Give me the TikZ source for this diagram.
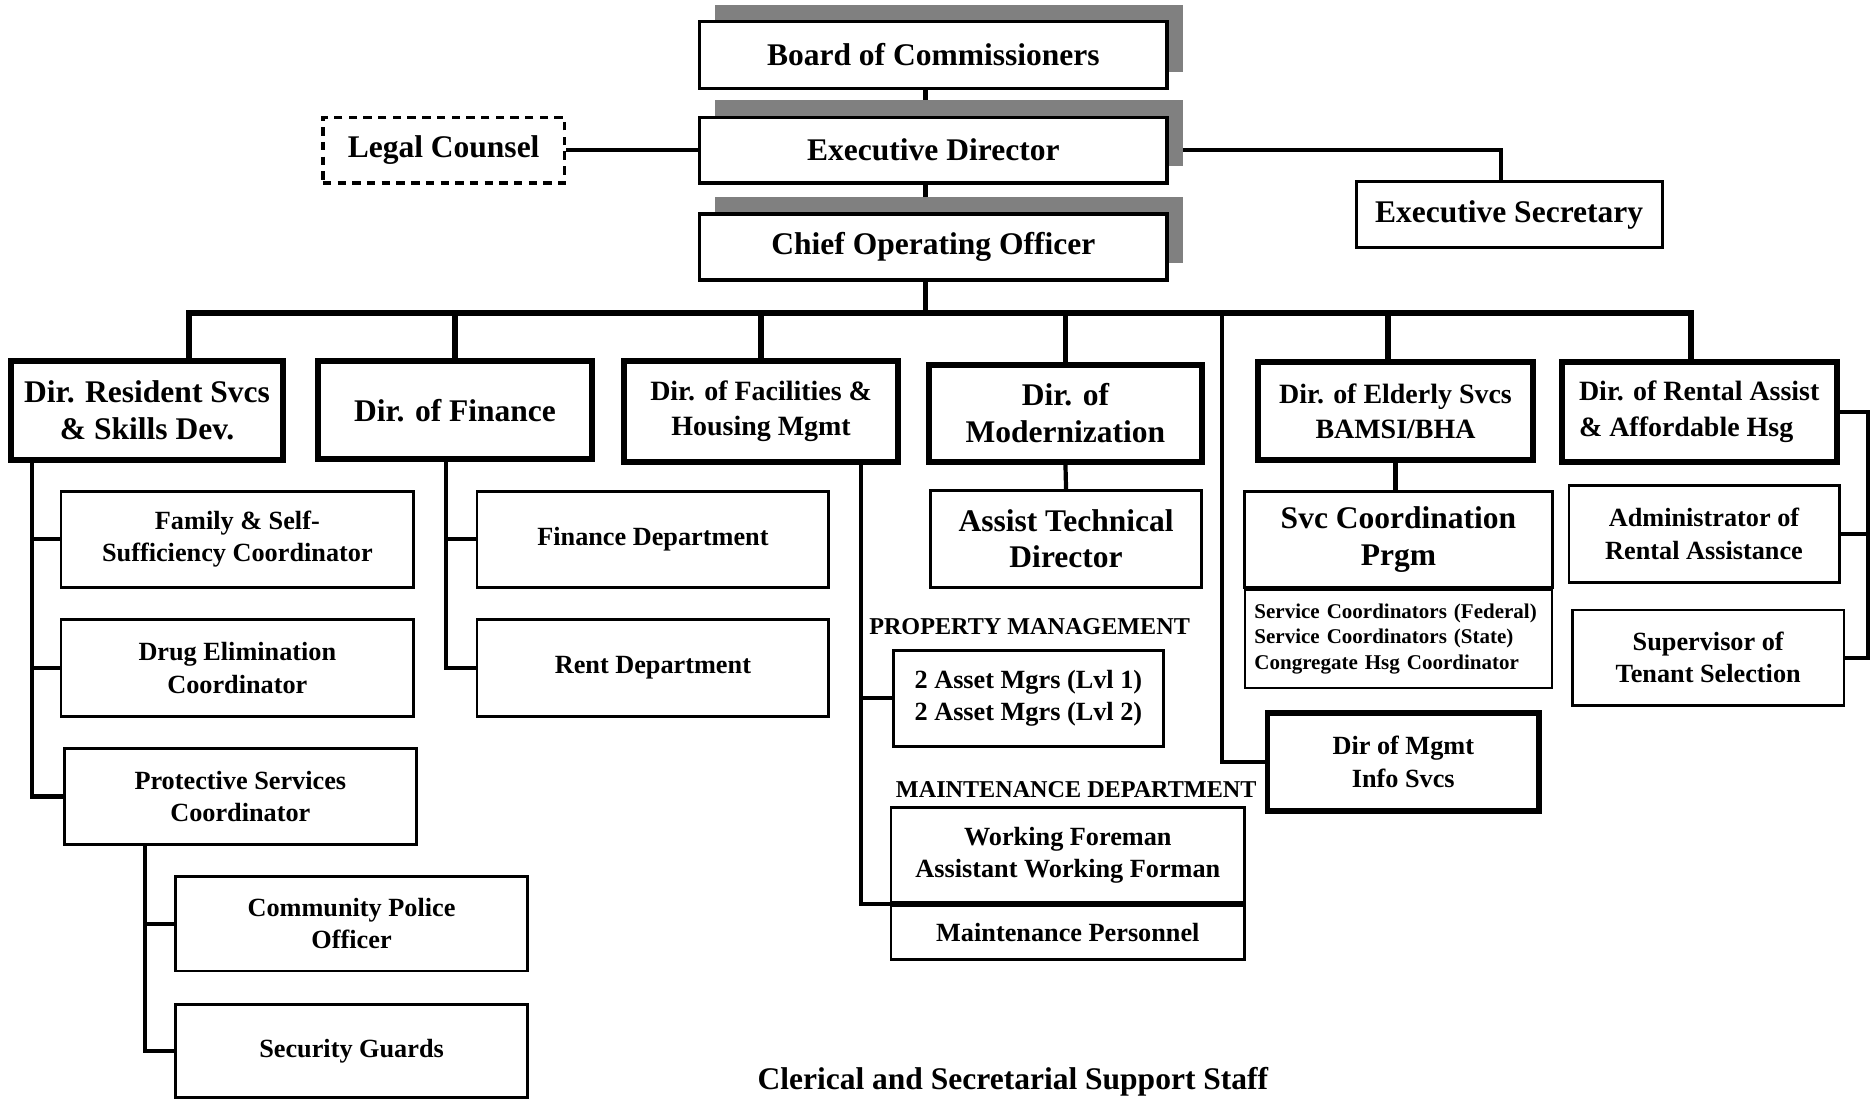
\documentclass[tikz,border=0pt]{standalone}
\usepackage{fontspec}
\setmainfont{Liberation Serif}
\usetikzlibrary{positioning, calc, shadows, backgrounds}

\begin{document}
\begin{tikzpicture}[x=0.02cm, y=-0.02cm,
  boxsize/.style 2 args = {minimum width=#1*0.02cm, minimum height=#2*0.02cm},
  topbox/.style = {
    rectangle, draw=black, line width=1.6pt, fill=white, align=center, inner sep=1pt,
    drop shadow={shadow xshift=0.26cm, shadow yshift=0.28cm, fill=gray, opacity=1},
    font=\fontsize{15}{17.6}\selectfont\bfseries
  },
  legalbox/.style = {
    rectangle, draw=black, line width=1.6pt, dash pattern=on 4pt off 3pt, fill=white,
    align=center, inner sep=1pt, font=\fontsize{15}{17.6}\selectfont\bfseries
  },
  plainbox/.style = {
    rectangle, draw=black, line width=1.4pt, fill=white, align=center, inner sep=1pt,
    font=\fontsize{15}{17.6}\selectfont\bfseries
  },
  dirbox/.style = {
    rectangle, draw=black, line width=2.8pt, fill=white, align=center, inner sep=1pt,
    drop shadow={shadow xshift=0.045cm, shadow yshift=-0.045cm, fill=gray!70, opacity=1},
    font=\fontsize{15}{17.6}\selectfont\bfseries
  },
  midfont/.style = {font=\fontsize{13.3}{17}\selectfont\bfseries},
  subfont/.style = {font=\fontsize{12.5}{15.4}\selectfont\bfseries},
  subbox/.style = {
    rectangle, draw=black, line width=1.3pt, fill=white, align=center, inner sep=1pt,
    font=\fontsize{12.5}{15.4}\selectfont\bfseries
  },
  listbox/.style = {
    rectangle, draw=black, line width=1.3pt, fill=white, align=left,
    inner xsep=0.16cm, inner ysep=1pt, text width=4.82cm, minimum height=82*0.02cm,
    font=\fontsize{10}{12}\selectfont\bfseries
  },
  caplabel/.style = {inner sep=1pt, font=\fontsize{11.5}{13}\selectfont\bfseries},
  footlabel/.style = {inner sep=1pt, font=\fontsize{15}{17.6}\selectfont\bfseries},
  link/.style = {draw=black, line width=2pt},
  bus/.style = {draw=black, line width=2.8pt}
]
  \useasboundingbox (0,0) rectangle (1568,920);

  % top of the chart
  \node[topbox, boxsize={391}{56}] (board) at (780.5,46)    {Board of Commissioners};
  \node[topbox, boxsize={391}{55}] (exec)  at (780.5,125.5) {Executive Director};
  \node[topbox, boxsize={391}{55}] (coo)   at (780.5,206.5) {Chief Operating Officer};
  \node[legalbox, boxsize={202}{55}] (legal) at (371,125.5) {Legal Counsel};
  \node[plainbox, boxsize={256}{55}] (secr)  at (1262,179.5) {Executive Secretary};

  % directors
  \node[dirbox, boxsize={228}{83}] (dres)  at (123,343.5)  {Dir. Resident Svcs\\\& Skills Dev.};
  \node[dirbox, boxsize={229}{82}] (dfin)  at (380.5,343)  {Dir. of Finance};
  \node[dirbox, midfont, boxsize={229}{84}] (dfac) at (636.5,344) {Dir. of Facilities \&\\Housing Mgmt};
  \node[dirbox, boxsize={228}{81}] (dmod)  at (891,345.5)  {Dir. of\\Modernization};
  \node[dirbox, midfont, boxsize={230}{82}] (deld) at (1167,344) {Dir. of Elderly Svcs\\BAMSI/BHA};
  \node[dirbox, midfont, align=left, boxsize={230}{83}] (drent) at (1421,344.5) {Dir. of Rental Assist\\\& Affordable Hsg};
  \node[dirbox, subfont, boxsize={227}{82}] (dmis) at (1173.5,637) {Dir of Mgmt\\Info Svcs};

  % resident services
  \node[subbox, boxsize={295}{80}] (family)  at (198.5,451)   {Family \& Self-\\Sufficiency Coordinator};
  \node[subbox, boxsize={295}{81}] (drug)    at (198.5,558.5) {Drug Elimination\\Coordinator};
  \node[subbox, boxsize={294}{80}] (protect) at (201,666)     {Protective Services\\Coordinator};
  \node[subbox, boxsize={294}{79}] (police)  at (294,772.5)   {Community Police\\Officer};
  \node[subbox, boxsize={294}{78}] (guards)  at (294,879)     {Security Guards};

  % finance
  \node[subbox, boxsize={294}{80}] (findept)  at (546,451)   {Finance Department};
  \node[subbox, boxsize={294}{81}] (rentdept) at (546,558.5) {Rent Department};

  % facilities and housing
  \node[caplabel] (propmgmt) at (861,524) {PROPERTY MANAGEMENT};
  \node[subbox, boxsize={226}{80}] (assets) at (860,584) {2 Asset Mgrs (Lvl 1)\\2 Asset Mgrs (Lvl 2)};
  \node[caplabel] (maintdept) at (900,660) {MAINTENANCE DEPARTMENT};
  \node[subbox, boxsize={296}{80}] (foreman) at (893,715) {Working Foreman\\Assistant Working Forman};
  \node[subbox, boxsize={296}{45}, below=0pt of foreman] (mpers) {Maintenance Personnel};

  % modernization and elderly
  \node[subbox, font=\fontsize{15}{17.6}\selectfont\bfseries, boxsize={227}{81}] (assist) at (891.5,450.5) {Assist Technical\\Director};
  \node[subbox, font=\fontsize{15}{17.6}\selectfont\bfseries, boxsize={257}{80}] (svcco) at (1169.5,451) {Svc Coordination\\Prgm};
  \node[listbox, below=0pt of svcco] (svclist) {Service Coordinators (Federal)\\Service Coordinators (State)\\Congregate Hsg Coordinator};

  % rental assistance
  \node[subbox, boxsize={226}{81}] (admin)  at (1425,446.5) {Administrator of\\Rental Assistance};
  \node[subbox, boxsize={227}{80}] (tenant) at (1428.5,550) {Supervisor of\\Tenant Selection};

  \node[footlabel] (clerical) at (847,905) {Clerical and Secretarial Support Staff};

  \begin{scope}[on background layer]
    % upper links
    \coordinate (spine) at (774,262);
    \draw[link] (board.south -| spine) -- (exec.north -| spine);
    \draw[link] (exec.south -| spine) -- (coo.north -| spine);
    \draw[link] (legal.east) -- (exec.west);
    \draw[link] (exec.east) -| ([xshift=-0.14cm]secr.north);

    % director bus
    \draw[bus] (coo.south -| spine) -- (spine);
    \draw[bus] ([xshift=0.7cm]dres.north) |- (spine) -| ([xshift=-0.14cm]drent.north);
    \draw[bus] (dfin.north) -- (dfin.north |- spine);
    \draw[bus] (dfac.north) -- (dfac.north |- spine);
    \draw[bus] (dmod.north) -- (dmod.north |- spine);
    \draw[bus] ([xshift=-0.12cm]deld.north) -- ([xshift=-0.12cm]deld.north |- spine);
    \coordinate (misdrop) at (1022,262);
    \draw[link] (misdrop) |- (dmis.west);

    % resident services
    \coordinate (resrail) at (27,385);
    \draw[link] (resrail) |- (protect.west);
    \draw[link] (resrail |- family.west) -- (family.west);
    \draw[link] (resrail |- drug.west) -- (drug.west);
    \coordinate (protrail) at (121,706);
    \draw[link] (protrail) |- (guards.west);
    \draw[link] (protrail |- police.west) -- (police.west);

    % finance
    \coordinate (finrail) at (373,384);
    \draw[link] (finrail) |- (rentdept.west);
    \draw[link] (finrail |- findept.west) -- (findept.west);

    % facilities
    \coordinate (facrail) at (720,386);
    \draw[link] (facrail) |- (foreman.south west);
    \draw[link] (facrail |- assets.west) -- (assets.west);

    % modernization, elderly, rental
    \draw[link] (dmod.south) -- (assist.north);
    \draw[link] (deld.south) -- (deld.south |- svcco.north);
    \coordinate (rentrail) at (1562,346);
    \draw[link] (drent.east) -- (drent.east -| rentrail) |- (tenant.east);
    \draw[link] (admin.east) -- (admin.east -| rentrail);
  \end{scope}

\end{tikzpicture}
\end{document}
